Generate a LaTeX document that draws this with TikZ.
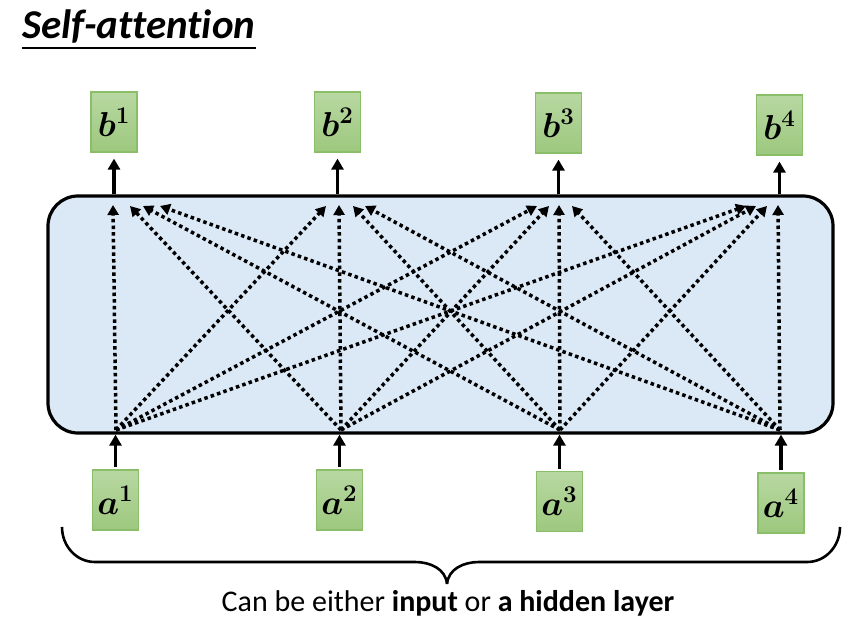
\documentclass[tikz,border=0pt]{standalone}
\usepackage{amsmath,bm}
\usepackage{fontspec}
\setmainfont{Carlito}[Ligatures=NoCommon]
\usetikzlibrary{arrows.meta}
\definecolor{boxtop}{RGB}{184,216,162}
\definecolor{boxbot}{RGB}{157,200,126}
\definecolor{boxline}{RGB}{138,190,105}
\definecolor{layerfill}{RGB}{219,232,245}
\begin{document}
\begin{tikzpicture}[x=0.5pt,y=-0.5pt,
  vecbox/.style={draw=boxline, line width=0.6pt, top color=boxtop, bottom color=boxbot,
    minimum width=23pt, minimum height=30pt, inner sep=0pt, font=\fontsize{18}{20}\selectfont},
  solidarrow/.style={line width=1.6pt, -{Triangle[length=5.5pt,width=6pt]}},
  dotarrow/.style={line width=1.75pt, dash pattern=on 1.75pt off 1.6pt, -{Triangle[length=5pt,width=5.5pt]}},
]
\useasboundingbox (0,0) rectangle (868,620);
% title
\node[inner sep=0pt, anchor=base west, font=\fontsize{20.5}{22}\selectfont\bfseries\itshape] (title) at (22,39) {Self-attention};
\draw[line width=1pt] ([yshift=-4.5pt]title.base west) -- ([yshift=-4.5pt]title.base east);
% layer
\node[draw, line width=1.6pt, rounded corners=15pt, fill=layerfill, minimum width=392.5pt, minimum height=118.5pt, inner sep=0pt] (layer) at (440.5,314.5) {};
% boxes
\node[vecbox] (b1) at (114,122) {$\bm{b}^{\bm{1}}$};
\node[vecbox] (b2) at (337.5,122) {$\bm{b}^{\bm{2}}$};
\node[vecbox] (b3) at (558.5,123) {$\bm{b}^{\bm{3}}$};
\node[vecbox] (b4) at (779.5,125) {$\bm{b}^{\bm{4}}$};
\node[vecbox] (a1) at (115.5,500) {$\bm{a}^{\bm{1}}$};
\node[vecbox] (a2) at (339.5,500) {$\bm{a}^{\bm{2}}$};
\node[vecbox] (a3) at (559.5,501.5) {$\bm{a}^{\bm{3}}$};
\node[vecbox] (a4) at (781,503) {$\bm{a}^{\bm{4}}$};
% solid arrows
\foreach \i in {1,2,3,4}{
  \draw[solidarrow, shorten <=1pt] (a\i.north) -- (a\i.north |- layer.south);
  \draw[solidarrow, shorten >=3pt] (b\i.south |- layer.north) -- (b\i.south);
}
% sources
\coordinate (s1) at (116,430);
\coordinate (s2) at (341,430);
\coordinate (s3) at (560,430);
\coordinate (s4) at (780,430);
% targets t<target><source>
\coordinate (t11) at (113,205); \coordinate (t12) at (130,206); \coordinate (t13) at (143,206); \coordinate (t14) at (160,206);
\coordinate (t21) at (326,206); \coordinate (t22) at (339,205); \coordinate (t23) at (353,206); \coordinate (t24) at (365,206);
\coordinate (t31) at (537,206); \coordinate (t32) at (549,206); \coordinate (t33) at (559,205); \coordinate (t34) at (572,206);
\coordinate (t41) at (746,206); \coordinate (t42) at (756,206); \coordinate (t43) at (767,206); \coordinate (t44) at (778,205);
\foreach \j in {1,2,3,4}{
  \foreach \i in {1,2,3,4}{
    \draw[dotarrow] (s\i) -- (t\j\i);
  }
}
% brace
\coordinate (bl) at (62,527);
\coordinate (br) at (840,527);
\coordinate (btip) at (447,584);
\draw[line width=1.3pt] (bl) to[out=-90,in=180] (95,562) -- (415,562) to[out=0,in=95] (btip);
\draw[line width=1.3pt] (br) to[out=-90,in=0] (807,562) -- (479,562) to[out=180,in=85] (btip);
\node[font=\fontsize{15}{17}\selectfont] (caption) at (448,603) {Can be either \textbf{input} or \textbf{a hidden layer}};
\end{tikzpicture}
\end{document}
